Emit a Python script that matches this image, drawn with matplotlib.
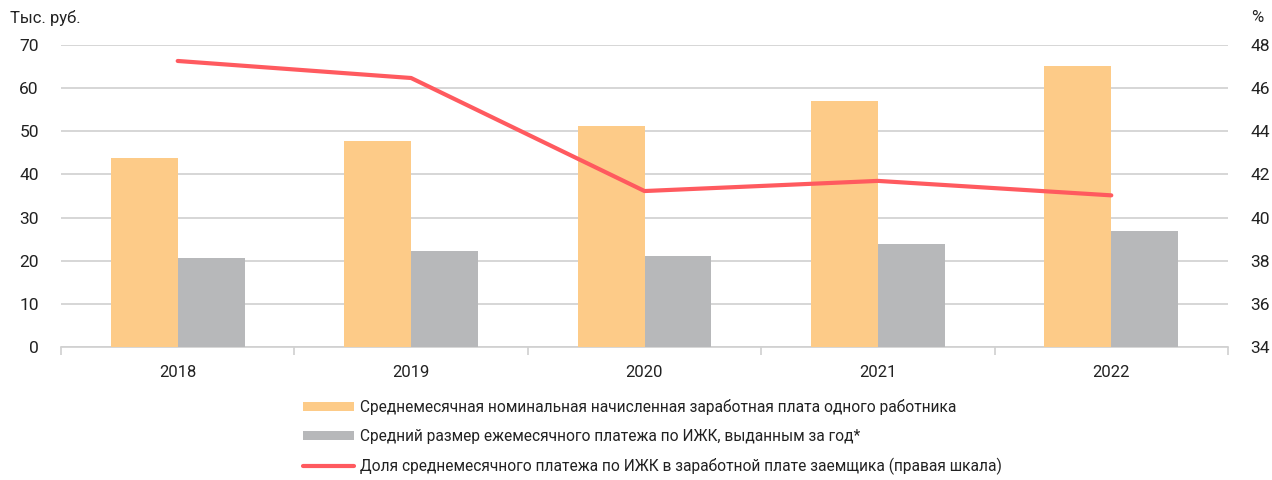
import matplotlib
matplotlib.use("Agg")
import matplotlib.pyplot as plt
import numpy as np
from matplotlib.patches import Patch
from matplotlib.lines import Line2D

plt.rcParams['font.family'] = ['Roboto', 'DejaVu Sans']

years = ['2018', '2019', '2020', '2021', '2022']
salary = [43.8, 47.8, 51.2, 57.0, 65.2]
payment = [20.7, 22.3, 21.1, 23.9, 26.8]
share = [47.26, 46.47, 41.23, 41.70, 41.03]

labels = [
    'Среднемесячная номинальная начисленная заработная плата одного работника',
    'Средний размер ежемесячного платежа по ИЖК, выданным за год*',
    'Доля среднемесячного платежа по ИЖК в заработной плате заемщика (правая шкала)',
]

c_orange = '#FDCB88'
c_gray = '#B7B8BA'
c_red = '#FF5A5F'
c_grid = '#D0D0D0'
c_text = '#222222'

fig = plt.figure(figsize=(12.72, 4.8), dpi=100)
ax = fig.add_axes([61/1272, 1-347/480, (1228-61)/1272, (347-45)/480])
ax2 = ax.twinx()

x = np.arange(len(years))
w = 0.287
ax.bar(x - w/2, salary, width=w, color=c_orange, zorder=3)
ax.bar(x + w/2, payment, width=w, color=c_gray, zorder=3)

ax.set_xlim(-0.5, len(years) - 0.5)
ax.set_ylim(0, 70)
ax.set_yticks(np.arange(0, 71, 10))
ax.grid(axis='y', color=c_grid, linewidth=1.2, zorder=0)
ax.set_axisbelow(True)
for s in ['top', 'left', 'right']:
    ax.spines[s].set_visible(False)
ax.spines['bottom'].set_color(c_grid)
ax.spines['bottom'].set_linewidth(1.2)

ax.set_xticks(x)
ax.set_xticklabels(years)
ax.tick_params(axis='x', length=0, pad=13, labelsize=12, colors=c_text)
ax.tick_params(axis='y', length=0, pad=16, labelsize=12.5, colors=c_text)
# category boundary tick marks
ax.set_xticks(np.arange(-0.5, len(years), 1.0), minor=True)
ax.tick_params(axis='x', which='minor', length=6, color=c_grid, width=1.2)

ax2.plot(x, share, color=c_red, linewidth=3, solid_capstyle='round', zorder=4)
ax2.set_ylim(34, 48)
ax2.set_yticks(np.arange(34, 49, 2))
ax2.tick_params(axis='y', length=0, pad=16, labelsize=12.5, colors=c_text)
for s in ['top', 'left', 'right', 'bottom']:
    ax2.spines[s].set_visible(False)

fig.text(10/1272, 1-18/480, 'Тыс. руб.', fontsize=12, color=c_text, va='center', ha='left')
fig.text(1263/1272, 1-18/480, '%', fontsize=12, color=c_text, va='center', ha='right')

handles = [
    Patch(facecolor=c_orange, edgecolor='none'),
    Patch(facecolor=c_gray, edgecolor='none'),
    Line2D([0], [0], color=c_red, linewidth=3, solid_capstyle='round'),
]
fig.legend(handles, labels, loc='upper left', bbox_to_anchor=(303/1272, 1-399/480),
           frameon=False, fontsize=11.2, handlelength=3.3, handleheight=0.6,
           handletextpad=0.35, labelspacing=0.9, labelcolor=c_text, borderaxespad=0,
           borderpad=0)

fig.savefig('out.png', dpi=100)
